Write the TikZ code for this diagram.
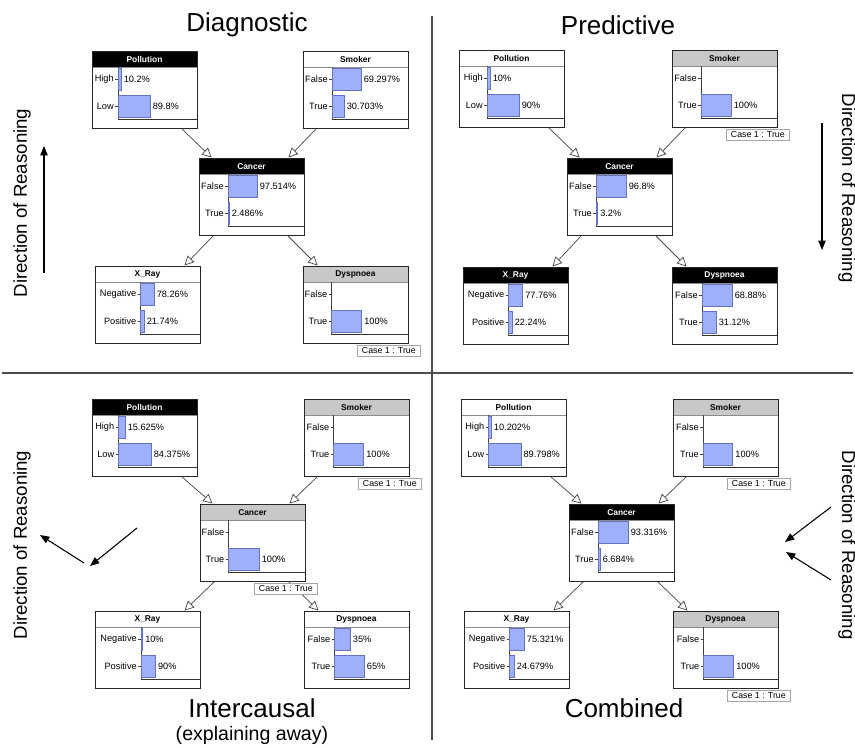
\documentclass[tikz,border=0pt]{standalone}
\usepackage{fontspec}
\setmainfont{Liberation Sans}
\usetikzlibrary{arrows.meta,calc,fit}
\definecolor{barfill}{RGB}{160,175,250}
\definecolor{barline}{RGB}{100,115,200}
\definecolor{hdrgray}{RGB}{200,200,200}
\tikzset{
 bnframe/.style={draw=black!85, line width=0.75pt, inner sep=0pt},
 hdrtext/.style={font=\fontsize{6.3}{7}\selectfont\bfseries, inner sep=0pt},
 lbl/.style={font=\fontsize{6.9}{7}\selectfont, inner sep=0pt},
 pbar/.style={fill=barfill, draw=barline, line width=0.45pt},
 axisv/.style={draw=black!75, line width=0.6pt},
 axish/.style={draw=black!80, line width=1.1pt},
 axtick/.style={draw=black!75, line width=0.5pt},
 hdrline/.style={draw=black!45, line width=0.5pt},
 casebox/.style={draw=black!35, fill=white, line width=0.5pt, font=\fontsize{6.6}{7}\selectfont, inner xsep=2pt, inner ysep=0pt, minimum height=8.25pt, minimum width=47pt},
 bnlink/.style={draw=black!70, line width=0.55pt, -{Triangle[open, length=7pt, width=7pt]}},
 dirarrow/.style={draw=black, line width=0.8pt, -{Triangle[length=7pt, width=5.5pt]}},
 qtitle/.style={font=\fontsize{19.5}{22}\selectfont, inner sep=0pt},
 qsubtitle/.style={font=\fontsize{14.7}{16}\selectfont, inner sep=0pt},
 dirtext/.style={font=\fontsize{14}{16}\selectfont, inner sep=0pt},
 divider/.style={draw=black!70, line width=0.8pt},
}
% #1 name, #2 x left, #3 top, #4 header fill, #5 header text colour, #6 title, #7 axis x
\newcommand{\bnbox}[7]{%
 \def\bnx{#2}\def\bnt{#3}\def\bnax{#7}%
 \pgfmathsetmacro\bnr{#2+105}%
 \pgfmathsetmacro\bnb{#3+77}%
 \pgfmathsetmacro\bnh{#3+16}%
 \pgfmathsetmacro\bnay{#3+68.5}%
 \fill[white] (#2,#3) rectangle (\bnr,\bnb);
 \fill[#4] (#2,#3) rectangle (\bnr,\bnh);
 \draw[hdrline] (#2,\bnh) -- (\bnr,\bnh);
 \draw[axisv] (#7,\bnh) -- (#7,\bnay);
 \draw[axish] (#7,\bnay) -- (\bnr,\bnay);
 \node[fit={(#2,#3) (\bnr,\bnb)}, bnframe] (#1) {};
 \node[hdrtext, text=#5] (#1-t) at ({#2+52.5},{#3+8.5}) {#6};
}
% #1 name, #2 row, #3 label, #4 bar width, #5 value
\newcommand{\bnrow}[5]{%
 \pgfmathsetmacro\bnyc{\bnt+1.5+27*#2}%
 \node[lbl, anchor=east] (#1-l) at (\bnax-4,\bnyc) {#3};
 \draw[axtick] (\bnax-3,\bnyc) -- (\bnax,\bnyc);
 \draw[pbar] (\bnax,\bnyc-11) rectangle ({\bnax+#4},\bnyc+11);
 \node[lbl, anchor=west] (#1-v) at ({\bnax+#4+2.5},\bnyc) {#5};
}
\newcommand{\bnrowe}[3]{%
 \pgfmathsetmacro\bnyc{\bnt+1.5+27*#2}%
 \node[lbl, anchor=east] (#1-l) at (\bnax-4,\bnyc) {#3};
 \draw[axtick] (\bnax-3,\bnyc) -- (\bnax,\bnyc);
}
\begin{document}
\begin{tikzpicture}[x=0.75pt,y=-0.75pt]
\useasboundingbox (0,0) rectangle (855,747);
\fill[white] (0,0) rectangle (855,747);

% dividers
\draw[divider] (432,16) -- (432,740);
\draw[divider] (2,373) -- (853,373);

% titles
\node[qtitle] (tDiag) at (247,25) {Diagnostic};
\node[qtitle] (tPred) at (618,25) {Predictive};
\node[qtitle] (tInter) at (252,708) {Intercausal};
\node[qsubtitle] (tExpl) at (252,735) {(explaining away)};
\node[qtitle] (tComb) at (624,708) {Combined};

% direction labels
\node[dirtext, rotate=90] (dTL) at (22,203) {Direction of Reasoning};
\node[dirtext, rotate=-90] (dTR) at (847,188) {Direction of Reasoning};
\node[dirtext, rotate=90] (dBL) at (22,545) {Direction of Reasoning};
\node[dirtext, rotate=-90] (dBR) at (847,545) {Direction of Reasoning};

\coordinate (aTLs) at (44,273); \coordinate (aTLe) at (44,146);
\coordinate (aTRs) at (822,123); \coordinate (aTRe) at (822,250);
\coordinate (aBL1s) at (84,563); \coordinate (aBL1e) at (40,535);
\coordinate (aBL2s) at (137,528); \coordinate (aBL2e) at (90,566);
\coordinate (aBR1s) at (831,507); \coordinate (aBR1e) at (785,542);
\coordinate (aBR2s) at (831,580); \coordinate (aBR2e) at (786,552);
\draw[dirarrow] (aTLs) -- (aTLe);
\draw[dirarrow] (aTRs) -- (aTRe);
\draw[dirarrow] (aBL1s) -- (aBL1e);
\draw[dirarrow] (aBL2s) -- (aBL2e);
\draw[dirarrow] (aBR1s) -- (aBR1e);
\draw[dirarrow] (aBR2s) -- (aBR2e);

% ===== Diagnostic (top left)
\bnbox{PolTL}{92}{51}{black}{white}{Pollution}{118}
\bnrow{PolTLa}{1}{High}{3}{10.2\%}
\bnrow{PolTLb}{2}{Low}{32}{89.8\%}
\bnbox{SmoTL}{303}{51}{white}{black}{Smoker}{332}
\bnrow{SmoTLa}{1}{False}{29}{69.297\%}
\bnrow{SmoTLb}{2}{True}{12}{30.703\%}
\bnbox{CanTL}{199}{158}{black}{white}{Cancer}{228}
\bnrow{CanTLa}{1}{False}{29}{97.514\%}
\bnrow{CanTLb}{2}{True}{1}{2.486\%}
\bnbox{XrTL}{95}{266}{white}{black}{X\_Ray}{140.5}
\bnrow{XrTLa}{1}{Negative}{13.5}{78.26\%}
\bnrow{XrTLb}{2}{Positive}{3.5}{21.74\%}
\bnbox{DysTL}{303}{266}{hdrgray}{black}{Dyspnoea}{331.5}
\bnrowe{DysTLa}{1}{False}
\bnrow{DysTLb}{2}{True}{30}{100\%}
\node[casebox, anchor=north east] (cDysTL) at ($(DysTL.south east)+(12,1)$) {Case 1 : True};

% ===== Predictive (top right)
\bnbox{PolTR}{459}{50}{white}{black}{Pollution}{487}
\bnrow{PolTRa}{1}{High}{3}{10\%}
\bnrow{PolTRb}{2}{Low}{32}{90\%}
\bnbox{SmoTR}{672}{50}{hdrgray}{black}{Smoker}{701}
\bnrowe{SmoTRa}{1}{False}
\bnrow{SmoTRb}{2}{True}{30}{100\%}
\node[casebox, anchor=north east] (cSmoTR) at ($(SmoTR.south east)+(12,1)$) {Case 1 : True};
\bnbox{CanTR}{567}{158}{black}{white}{Cancer}{596}
\bnrow{CanTRa}{1}{False}{30}{96.8\%}
\bnrow{CanTRb}{2}{True}{1.5}{3.2\%}
\bnbox{XrTR}{463}{267}{black}{white}{X\_Ray}{508.5}
\bnrow{XrTRa}{1}{Negative}{14}{77.76\%}
\bnrow{XrTRb}{2}{Positive}{3.5}{22.24\%}
\bnbox{DysTR}{672}{267}{black}{white}{Dyspnoea}{702}
\bnrow{DysTRa}{1}{False}{30}{68.88\%}
\bnrow{DysTRb}{2}{True}{14}{31.12\%}

% ===== Intercausal (bottom left)
\bnbox{PolBL}{92}{399}{black}{white}{Pollution}{118.5}
\bnrow{PolBLa}{1}{High}{6.5}{15.625\%}
\bnrow{PolBLb}{2}{Low}{32.5}{84.375\%}
\bnbox{SmoBL}{304}{399}{hdrgray}{black}{Smoker}{333.5}
\bnrowe{SmoBLa}{1}{False}
\bnrow{SmoBLb}{2}{True}{30}{100\%}
\node[casebox, anchor=north east] (cSmoBL) at ($(SmoBL.south east)+(12,1)$) {Case 1 : True};
\bnbox{CanBL}{200}{504}{hdrgray}{black}{Cancer}{228.5}
\bnrowe{CanBLa}{1}{False}
\bnrow{CanBLb}{2}{True}{30.5}{100\%}
\bnbox{XrBL}{95}{611}{white}{black}{X\_Ray}{141}
\bnrow{XrBLa}{1}{Negative}{1.5}{10\%}
\bnrow{XrBLb}{2}{Positive}{14.3}{90\%}
\bnbox{DysBL}{304}{611}{white}{black}{Dyspnoea}{334.5}
\bnrow{DysBLa}{1}{False}{15.7}{35\%}
\bnrow{DysBLb}{2}{True}{29.7}{65\%}

% ===== Combined (bottom right)
\bnbox{PolBR}{461}{399}{white}{black}{Pollution}{488.5}
\bnrow{PolBRa}{1}{High}{2.7}{10.202\%}
\bnrow{PolBRb}{2}{Low}{32.3}{89.798\%}
\bnbox{SmoBR}{673}{399}{hdrgray}{black}{Smoker}{703}
\bnrowe{SmoBRa}{1}{False}
\bnrow{SmoBRb}{2}{True}{29.7}{100\%}
\node[casebox, anchor=north east] (cSmoBR) at ($(SmoBR.south east)+(12,1)$) {Case 1 : True};
\bnbox{CanBR}{569}{504}{black}{white}{Cancer}{598}
\bnrow{CanBRa}{1}{False}{30}{93.316\%}
\bnrow{CanBRb}{2}{True}{2}{6.684\%}
\bnbox{XrBR}{464}{611}{white}{black}{X\_Ray}{509.5}
\bnrow{XrBRa}{1}{Negative}{14.7}{75.321\%}
\bnrow{XrBRb}{2}{Positive}{4.7}{24.679\%}
\bnbox{DysBR}{673}{611}{hdrgray}{black}{Dyspnoea}{703.5}
\bnrowe{DysBRa}{1}{False}
\bnrow{DysBRb}{2}{True}{30}{100\%}
\node[casebox, anchor=north east] (cDysBR) at ($(DysBR.south east)+(12,1)$) {Case 1 : True};

% ===== links
\foreach \q in {TL,TR,BL,BR}{
 \draw[bnlink] ($(Pol\q.south west)+(90,0)$) -- ($(Can\q.north west)+(13,0)$);
 \draw[bnlink] ($(Smo\q.south west)+(14,0)$) -- ($(Can\q.north west)+(90,0)$);
 \draw[bnlink] ($(Can\q.south west)+(15,0)$) -- ($(Xr\q.north west)+(90,0)$);
 \draw[bnlink] ($(Can\q.south west)+(89,0)$) -- ($(Dys\q.north west)+(15,0)$);
}
\node[casebox, anchor=north east] (cCanBL) at ($(CanBL.south east)+(12,1)$) {Case 1 : True};
\end{tikzpicture}
\end{document}
